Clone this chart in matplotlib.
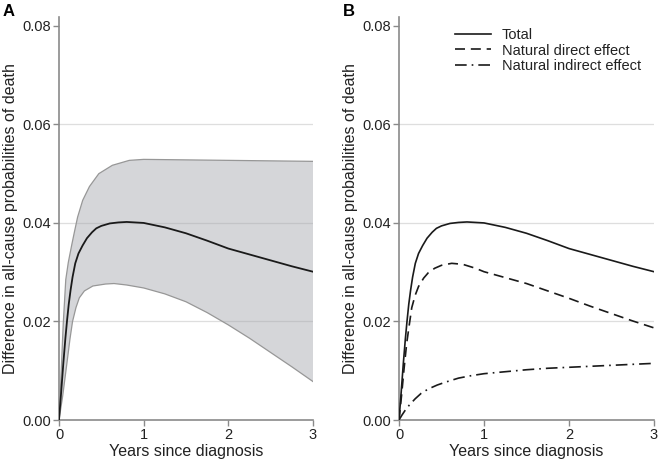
import matplotlib
matplotlib.use("Agg")
import matplotlib.pyplot as plt

plt.rcParams['font.family'] = ['Liberation Sans', 'DejaVu Sans']

# Total effect (same series in both panels)
years_total = [0.0, 0.025, 0.051, 0.075, 0.094, 0.115, 0.137, 0.16, 0.192, 0.23, 0.278, 0.33, 0.39, 0.44,
               0.5, 0.6, 0.7, 0.8, 0.9, 1.0, 1.25, 1.5, 1.75, 2.0, 2.25, 2.5, 2.75, 3.0]
total = [0.0, 0.0055, 0.0115, 0.0165, 0.0200, 0.0235, 0.0264, 0.0290, 0.0318, 0.0338, 0.0354, 0.0369, 0.0381, 0.0389,
         0.0394, 0.0399, 0.0401, 0.0402, 0.0401, 0.0400, 0.0391, 0.0379, 0.0364, 0.0348, 0.0336, 0.0324, 0.0312, 0.0301]

# Panel A: confidence band
years_upper = [0.0, 0.02, 0.05, 0.08, 0.11, 0.15, 0.18, 0.22, 0.28, 0.36, 0.47, 0.63, 0.83, 1.0, 1.5, 2.0, 2.5, 3.0]
upper_a = [0.0, 0.0075, 0.0195, 0.0285, 0.0320, 0.0355, 0.0380, 0.0412, 0.0446, 0.0474, 0.0500, 0.0517, 0.0527,
           0.0529, 0.0528, 0.0527, 0.0526, 0.0525]
years_lower = [0.0, 0.043, 0.094, 0.13, 0.16, 0.20, 0.24, 0.30, 0.40, 0.55, 0.65, 0.80, 1.0, 1.25, 1.5, 1.75,
               2.0, 2.25, 2.5, 2.75, 3.0]
lower_a = [0.0, 0.0048, 0.0116, 0.0165, 0.0200, 0.0228, 0.0248, 0.0262, 0.0272, 0.0276, 0.0277, 0.0274, 0.0268,
           0.0256, 0.0240, 0.0218, 0.0193, 0.0166, 0.0137, 0.0108, 0.0078]

# Panel B: decomposition
years_direct = [0.0, 0.03, 0.06, 0.09, 0.12, 0.15, 0.19, 0.23, 0.29, 0.345, 0.42, 0.5, 0.62, 0.75, 0.9, 1.0,
                1.25, 1.5, 1.75, 2.0, 2.25, 2.5, 2.75, 3.0]
direct_b = [0.0, 0.0050, 0.0105, 0.0155, 0.0192, 0.0228, 0.0253, 0.0271, 0.0288, 0.0299, 0.0308, 0.0314, 0.0318,
            0.0316, 0.0308, 0.0301, 0.0289, 0.0277, 0.0262, 0.0247, 0.0231, 0.0216, 0.0201, 0.0187]
years_indirect = [0.0, 0.035, 0.07, 0.12, 0.19, 0.26, 0.345, 0.45, 0.55, 0.7, 0.85, 1.0, 1.25, 1.5, 1.75, 2.0,
                  2.25, 2.5, 2.75, 3.0]
indirect_b = [0.0, 0.0010, 0.0019, 0.0030, 0.0043, 0.0054, 0.0063, 0.0071, 0.0077, 0.0085, 0.0090, 0.0094, 0.0098,
              0.0102, 0.0105, 0.0107, 0.0109, 0.0111, 0.0113, 0.0115]

legend_labels = ["Total", "Natural direct effect", "Natural indirect effect"]
yticks = [0.0, 0.02, 0.04, 0.06, 0.08]
ytick_labels = ["0.00", "0.02", "0.04", "0.06", "0.08"]
xticks = [0, 1, 2, 3]
xlabel = "Years since diagnosis"
ylabel = "Difference in all-cause probabilities of death"

fig = plt.figure(figsize=(6.58, 4.59), dpi=100)
axA = fig.add_axes([59/658, 39/459, 254/658, 403/459])
axB = fig.add_axes([399/658, 39/459, 255/658, 403/459])

spine_c = '#8a8a8a'
line_c = '#1a1a1a'
for ax in (axA, axB):
    ax.set_xlim(0, 3)
    ax.set_ylim(0, 0.0818)
    for s in ('top', 'right'):
        ax.spines[s].set_visible(False)
    for s in ('left', 'bottom'):
        ax.spines[s].set_color(spine_c)
        ax.spines[s].set_linewidth(1.2)
    ax.set_yticks(yticks)
    ax.set_yticklabels(ytick_labels)
    ax.set_xticks(xticks)
    ax.tick_params(axis='both', direction='out', length=4, width=1.0, color=spine_c,
                   labelsize=10.5, labelcolor='#222222', pad=2)
    for g in (0.02, 0.04, 0.06):
        ax.axhline(g, color='#dedede', lw=0.9, zorder=0.5)
    ax.set_xlabel(xlabel, fontsize=11.5, color='#222222', labelpad=1)
    ax.set_ylabel(ylabel, fontsize=11.5, color='#222222', labelpad=3)
    ax.set_facecolor('white')

# Band polygon built from the upper and lower edges
poly_x = years_upper + years_lower[::-1]
poly_y = upper_a + lower_a[::-1]
axA.fill(poly_x, poly_y, facecolor='#a3a5ab', alpha=0.45, edgecolor='none', zorder=1)
axA.plot(years_upper, upper_a, color='#979797', lw=0.9, zorder=1.5)
axA.plot(years_lower, lower_a, color='#979797', lw=0.9, zorder=1.5)
axA.plot(years_total, total, color=line_c, lw=1.3, zorder=3)

axB.plot(years_total, total, color=line_c, lw=1.2, ls='-', label=legend_labels[0], zorder=3)
axB.plot(years_direct, direct_b, color=line_c, lw=1.2, ls=(0, (6, 3.5)), label=legend_labels[1], zorder=3)
axB.plot(years_indirect, indirect_b, color=line_c, lw=1.2, ls=(0, (7, 3, 1, 3)), label=legend_labels[2], zorder=3)
leg = axB.legend(loc='upper left', bbox_to_anchor=(0.185, 0.995), frameon=False, fontsize=10.5,
                 handlelength=2.5, handletextpad=0.7, labelspacing=0.12, borderaxespad=0.2)
for t in leg.get_texts():
    t.set_color('#222222')

fig.text(3/658, 1 - 4/459, "A", fontsize=12, fontweight='bold', va='top', ha='left')
fig.text(343/658, 1 - 4/459, "B", fontsize=12, fontweight='bold', va='top', ha='left')

fig.savefig("out.png", dpi=100)
